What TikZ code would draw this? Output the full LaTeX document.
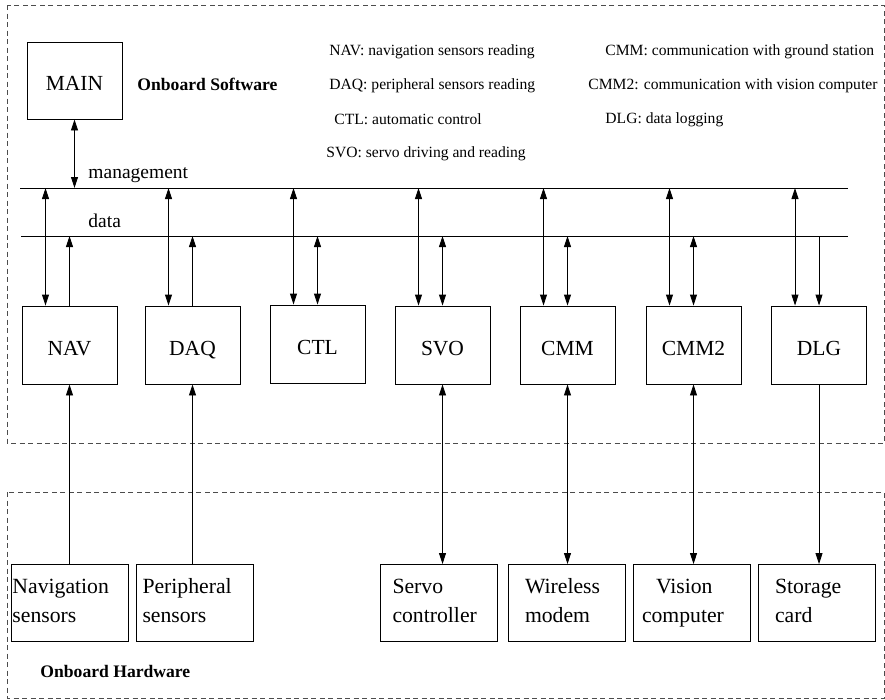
\documentclass[tikz,border=0pt]{standalone}
\usepackage{fontspec}
\setmainfont{Liberation Serif}
\usetikzlibrary{arrows.meta}

\begin{document}
\begin{tikzpicture}[x=1pt, y=-1pt,
  line width=0.9pt,
  >={Triangle[length=11pt,width=7pt]},
  group/.style={draw=black!70, dash pattern=on 5pt off 3.5pt, line width=0.8pt},
  modbox/.style={draw, rectangle, minimum width=95pt, minimum height=78pt,
    inner sep=0pt, text height=20pt, text depth=0pt,
    font=\fontsize{21.5}{26}\selectfont},
  hwbox/.style={draw, rectangle, minimum height=77pt, inner ysep=0pt,
    align=left, font=\fontsize{21.7}{29}\selectfont},
  legend/.style={anchor=base west, inner sep=0pt, font=\fontsize{15.6}{18}\selectfont},
  buslabel/.style={anchor=base west, inner sep=0pt, font=\fontsize{19.5}{22}\selectfont},
  grouplabel/.style={anchor=base west, inner sep=0pt, font=\fontsize{17.6}{20}\selectfont\bfseries},
  bus/.style={draw, line width=0.9pt},
  link/.style={draw, ->},
  dlink/.style={draw, <->}]

\useasboundingbox (0,0) rectangle (885,699);

% dashed frames of the two layers
\draw[group] (7,5) rectangle (884,443);
\draw[group] (7,492) rectangle (884,698);

% main module
\node[modbox, minimum height=77pt, text height=19pt] (main) at (74.5,80.5) {MAIN};
\node[grouplabel] (swlabel) at (137,90) {Onboard Software};
\node[grouplabel] (hwlabel) at (40,677) {Onboard Hardware};

% legend
\node[legend] (l1) at (329,55) {NAV: navigation sensors reading};
\node[legend] (l2) at (329,89.5) {DAQ: peripheral sensors reading};
\node[legend] (l3) at (334,124) {CTL: automatic control};
\node[legend] (l4) at (326,157) {SVO: servo driving and reading};
\node[legend] (l5) at (605,55) {CMM: communication with ground station};
\node[legend] (l6) at (588,89.5) {CMM2: communication with vision computer};
\node[legend] (l7) at (605,123) {DLG: data logging};

% buses
\coordinate (mgL) at (20,188);
\coordinate (mgR) at (848,188);
\coordinate (daL) at (21,236);
\coordinate (daR) at (848,236);
\draw[bus] (mgL) -- (mgR);
\draw[bus] (daL) -- (daR);
\node[buslabel] (mglabel) at (88,178) {management};
\node[buslabel] (dalabel) at (88,227) {data};

% software modules
\node[modbox] (nav)  at (69.5,345)  {NAV};
\node[modbox] (daq)  at (192.5,345) {DAQ};
\node[modbox] (ctl)  at (317.5,344) {CTL};
\node[modbox] (svo)  at (442.5,345) {SVO};
\node[modbox] (cmm)  at (567.5,345) {CMM};
\node[modbox] (cmmb) at (693.5,345) {CMM2};
\node[modbox] (dlg)  at (819,345)   {DLG};

% hardware units
\node[hwbox, text width=115pt, inner xsep=1pt]  (navhw) at (70,603)
  {Navigation\\sensors\vphantom{p}};
\node[hwbox, text width=105pt, inner xsep=6pt]  (daqhw) at (195,603)
  {Peripheral\\sensors\vphantom{p}};
\node[hwbox, text width=93pt, inner xsep=12pt]  (svohw) at (439,603)
  {Servo\\controller\vphantom{p}};
\node[hwbox, text width=83pt, inner xsep=17pt]  (cmmhw) at (566.5,603)
  {Wireless\\modem\vphantom{p}};
\node[hwbox, text width=99pt, inner xsep=9pt] (cmmbhw) at (691.5,603)
  {\hspace*{14pt}Vision\\computer};
\node[hwbox, text width=83pt, inner xsep=17pt]  (dlghw) at (816.5,603)
  {Storage\\card\vphantom{p}};

% main to management bus
\draw[dlink] (main.south) -- (main.south |- mgL);

% management bus to every module
\foreach \m in {nav,daq,ctl,svo,cmm,cmmb,dlg}{
  \draw[dlink] ([xshift=-24pt]\m.north) -- ([xshift=-24pt]\m.north |- mgL);
}

% data bus links
\draw[link] (nav.north) -- (nav.north |- daL);
\draw[link] (daq.north) -- (daq.north |- daL);
\foreach \m in {ctl,svo,cmm,cmmb}{
  \draw[dlink] (\m.north) -- (\m.north |- daL);
}
\draw[link] (dlg.north |- daL) -- (dlg.north);

% modules to hardware
\draw[link] (navhw.north -| nav.south) -- (nav.south);
\draw[link] (daqhw.north -| daq.south) -- (daq.south);
\draw[dlink] (svo.south) -- (svo.south |- svohw.north);
\draw[dlink] (cmm.south) -- (cmm.south |- cmmhw.north);
\draw[dlink] (cmmb.south) -- (cmmb.south |- cmmbhw.north);
\draw[link] (dlg.south) -- (dlg.south |- dlghw.north);

\end{tikzpicture}
\end{document}
